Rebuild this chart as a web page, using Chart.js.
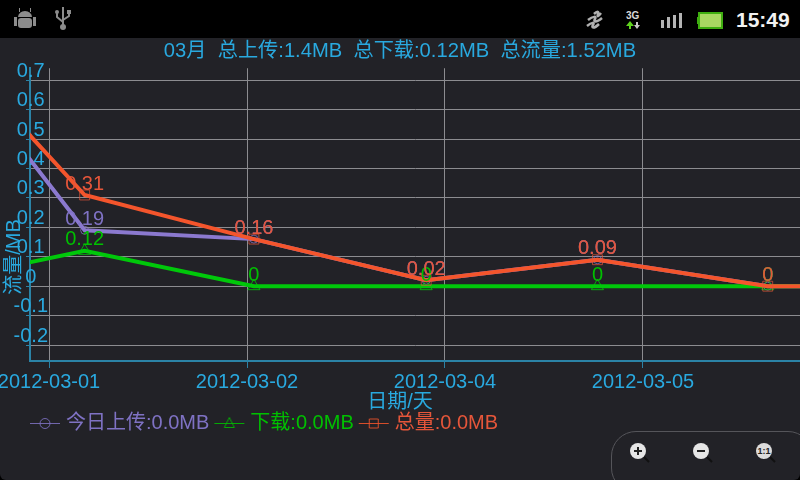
<!DOCTYPE html>
<html>
<head>
<meta charset="utf-8">
<style>
html, body { margin: 0; padding: 0; background: #000; }
#screen { position: relative; width: 800px; height: 480px; overflow: hidden; background: #000; }
#panel { position: absolute; left: 0; top: 38px; width: 800px; height: 442px; background: #222227; border-radius: 0 0 6px 6px; }
#myChart { position: absolute; left: 0; top: 0; }
#clock { position: absolute; left: 736px; top: 8px; color: #f2f2f2; font: bold 21px "Liberation Sans", sans-serif; }
#status { position: absolute; left: 0; top: 0; }
#zoomBox { position: absolute; left: 611px; top: 431px; width: 200px; height: 60px; border: 1px solid #55555a; border-radius: 25px; }
.zoomBtn { position: absolute; top: 442px; width: 24px; height: 24px; }
</style>
</head>
<body>
<div id="screen">
  <div id="panel"></div>
  <svg id="status" width="800" height="38">
    <!-- android -->
    <g fill="#8c8c8c">
      <path d="M18 17a7 6 0 0 1 14 0z"/>
      <rect x="18" y="18" width="14" height="10" rx="3"/>
      <rect x="14" y="17" width="3" height="9"/>
      <rect x="33" y="17" width="3" height="9"/>
      <rect x="19" y="8" width="1" height="4"/>
      <rect x="30" y="8" width="1" height="4"/>
    </g>
    <!-- usb -->
    <g stroke="#8c8c8c" stroke-width="2" fill="none">
      <path d="M63 7v20M63 22l-6-5v-4M63 20l6-4v-3"/>
    </g>
    <circle cx="63" cy="27" r="3" fill="#8c8c8c"/>
    <rect x="67" y="10" width="4" height="4" fill="#8c8c8c"/>
    <circle cx="57" cy="12" r="2" fill="#8c8c8c"/>
    <!-- sync waves -->
    <g stroke="#b0b0b0" stroke-width="2.5" fill="none">
      <path d="M594 14c3-3 5-3 4 0s0 3 3-1"/>
      <path d="M588 20c5-4 9-4 7-1s1 4 7-1"/>
      <path d="M587 26c5-4 8-4 6-1s1 4 6-1"/>
    </g>
    <!-- 3G -->
    <text x="626" y="19" fill="#d8d8d8" font-family="Liberation Sans" font-size="10" font-weight="bold">3G</text>
    <path d="M630 21l-4 5h3v3h2v-3h3z" fill="#5fd41e"/>
    <path d="M637 29l3-4h-2v-3h-2v3h-2z" fill="#c8c8c8"/>
    <!-- signal -->
    <g fill="#b4b4b4">
      <rect x="661" y="20" width="3" height="8"/>
      <rect x="667" y="17" width="3" height="11"/>
      <rect x="673" y="15" width="3" height="13"/>
      <rect x="679" y="13" width="3" height="15"/>
    </g>
    <!-- battery -->
    <rect x="699" y="13" width="23" height="15" fill="#a9d862" stroke="#3fae10" stroke-width="2"/>
    <rect x="697" y="17" width="2" height="7" fill="#3fae10"/>
  </svg>
  <div id="clock">15:49</div>
  <div id="zoomBox"></div>
  <svg class="zoomBtn" style="left:628px"><circle cx="10" cy="9" r="8" fill="#e6e6e6"/><path d="M6 9h8M10 5v8" stroke="#222" stroke-width="2"/><path d="M16 15l5 5" stroke="#111" stroke-width="2"/></svg>
  <svg class="zoomBtn" style="left:691px"><circle cx="10" cy="9" r="8" fill="#e6e6e6"/><path d="M6 9h8" stroke="#222" stroke-width="2"/><path d="M16 15l5 5" stroke="#111" stroke-width="2"/></svg>
  <svg class="zoomBtn" style="left:754px"><circle cx="10" cy="9" r="8" fill="#dcdcdc"/><text x="10" y="12" text-anchor="middle" fill="#222" font-family="Liberation Sans" font-size="9" font-weight="bold">1:1</text><path d="M16 15l5 5" stroke="#111" stroke-width="2"/></svg>
  <canvas id="myChart" width="800" height="480"></canvas>
</div>

<script src="https://cdn.jsdelivr.net/npm/chart.js"></script>
<script>
// 数据
const dayPositions = [-0.68, 0.18, 1.035, 1.905, 2.77, 3.63, 4.495];
const uploadValues = [0.94, 0.19, 0.16, 0.02, 0.09, 0, 0];
const downloadValues = [0, 0.12, 0, 0, 0, 0, 0];
const totalValues = [0.94, 0.31, 0.16, 0.02, 0.09, 0, 0];
const dateTicks = [0, 1, 2, 3];
const dateLabels = ['2012-03-01', '2012-03-02', '2012-03-04', '2012-03-05'];
const valueTicks = [-0.2, -0.1, 0, 0.1, 0.2, 0.3, 0.4, 0.5, 0.6, 0.7];
const seriesNames = ['今日上传:0.0MB', '下载:0.0MB', '总量:0.0MB'];
const titleText = '03月  总上传:1.4MB  总下载:0.12MB  总流量:1.52MB';

const FONT = '"Liberation Sans", "Noto Sans CJK SC", sans-serif';
const BLUE = '#29a9df';

function toPoints(values) {
    return values.map((v, i) => ({ x: dayPositions[i], y: v }));
}

// 图例里的线和标记
function makeSwatch(color, shape) {
    let c = document.createElement('canvas');
    c.width = 32;
    c.height = 16;
    let g = c.getContext('2d');
    g.globalAlpha = 0.85;
    g.strokeStyle = color;
    g.lineWidth = 1;
    g.beginPath();
    g.moveTo(1, 8.5);
    g.lineTo(31, 8.5);
    if (shape === 'circle') {
        g.moveTo(21, 8.5);
        g.arc(16, 8.5, 5, 0, Math.PI * 2);
    } else if (shape === 'triangle') {
        g.moveTo(16, 2.5);
        g.lineTo(21, 12.5);
        g.lineTo(11, 12.5);
        g.closePath();
    } else {
        g.rect(11.5, 4, 9, 9);
    }
    g.stroke();
    return c;
}

// 每个点上方的数值和两个轴标题
const valueLabels = {
    id: 'valueLabels',
    afterDatasetsDraw(chart) {
        let ctx = chart.ctx;
        ctx.save();
        ctx.font = '20px ' + FONT;
        ctx.textAlign = 'center';
        ctx.textBaseline = 'middle';
        [0, 1, 2].forEach(function (index) {
            let ds = chart.data.datasets[index];
            ctx.fillStyle = ds.labelColor;
            chart.getDatasetMeta(index).data.forEach(function (pt, i) {
                ctx.fillText(String(ds.data[i].y), pt.x, pt.y - 11);
            });
        });
        ctx.fillStyle = BLUE;
        ctx.fillText('日期/天', 400, 402);
        ctx.translate(14, 257);
        ctx.rotate(-Math.PI / 2);
        ctx.fillText('流量/MB', 0, 0);
        ctx.restore();
    }
};

// 图例往右挪到纵轴附近
const legendPlace = {
    id: 'legendPlace',
    afterLayout(chart) {
        chart.legend.left = 25;
        chart.legend.top = 404;
    }
};

let ctx = document.getElementById('myChart').getContext('2d');
let chart = new Chart(ctx, {
    type: 'line',
    data: {
        datasets: [{
            label: seriesNames[0],
            data: toPoints(uploadValues),
            borderColor: '#8b79cf',
            labelColor: '#7f72c4',
            pointStyle: 'circle',
            pointRadius: 4,
            pointBorderColor: 'rgba(139,121,207,0.7)',
            swatch: makeSwatch('#7f72c4', 'circle'),
            order: 3
        }, {
            label: seriesNames[1],
            data: toPoints(downloadValues),
            borderColor: '#00c80a',
            labelColor: '#00c000',
            pointStyle: 'triangle',
            pointRadius: 7,
            pointBorderColor: 'rgba(0,200,10,0.8)',
            swatch: makeSwatch('#00c000', 'triangle'),
            order: 2
        }, {
            label: seriesNames[2],
            data: toPoints(totalValues),
            borderColor: '#f4552c',
            labelColor: '#e6563a',
            pointStyle: 'rect',
            pointRadius: 7,
            pointBorderColor: 'rgba(230,86,58,0.7)',
            swatch: makeSwatch('#f4552c', 'rect'),
            order: 1
        }]
    },
    options: {
        responsive: false,
        animation: false,
        layout: { autoPadding: false, padding: { top: 38, bottom: 27, left: 0, right: 0 } },
        elements: {
            line: { borderWidth: 4, tension: 0, fill: false },
            point: { borderWidth: 1, backgroundColor: 'rgba(0,0,0,0)' }
        },
        scales: {
            x: {
                type: 'linear',
                min: -0.096,
                max: 3.793,
                afterBuildTicks(axis) { axis.ticks = dateTicks.map(v => ({ value: v })); },
                afterFit(axis) {
                    axis.height = 53;
                    axis.paddingLeft = 0;
                    axis.paddingRight = 0;
                },
                ticks: {
                    color: BLUE,
                    font: { size: 20, family: FONT },
                    padding: 2,
                    maxRotation: 0,
                    autoSkip: false,
                    callback: (v) => dateLabels[dateTicks.indexOf(v)]
                },
                grid: { color: '#8c8c90', tickColor: '#2b83a6', tickLength: 7, lineWidth: 1 },
                border: { color: '#2b83a6', width: 2 }
            },
            y: {
                min: -0.2544,
                max: 0.741,
                afterBuildTicks(axis) { axis.ticks = valueTicks.map(v => ({ value: v })); },
                afterFit(axis) {
                    axis.width = 30;
                    // 刻度文字骑在轴线上，不能按轴宽裁剪
                    axis._computeLabelArea = () => undefined;
                },
                ticks: {
                    color: BLUE,
                    font: { size: 20, family: FONT },
                    crossAlign: 'center',
                    padding: -22,
                    labelOffset: -9,
                    autoSkip: false,
                    callback: (v) => String(v)
                },
                grid: { color: '#8c8c90', tickColor: '#2b83a6', tickLength: 4, lineWidth: 1 },
                border: { color: '#2b83a6', width: 2 }
            }
        },
        plugins: {
            title: {
                display: true,
                text: titleText,
                color: BLUE,
                padding: { top: 1, bottom: 5 },
                font: { size: 20.2, weight: 'normal', family: FONT }
            },
            legend: {
                position: 'bottom',
                align: 'start',
                labels: {
                    usePointStyle: true,
                    pointStyleWidth: 22,
                    padding: 9,
                    font: { size: 20, family: FONT },
                    generateLabels(chart) {
                        return chart.data.datasets.map((ds, i) => ({
                            text: ds.label,
                            fontColor: ds.labelColor,
                            pointStyle: ds.swatch,
                            lineWidth: 0,
                            datasetIndex: i
                        }));
                    }
                }
            },
            tooltip: { enabled: false }
        }
    },
    plugins: [valueLabels, legendPlace]
});
</script>
</body>
</html>
